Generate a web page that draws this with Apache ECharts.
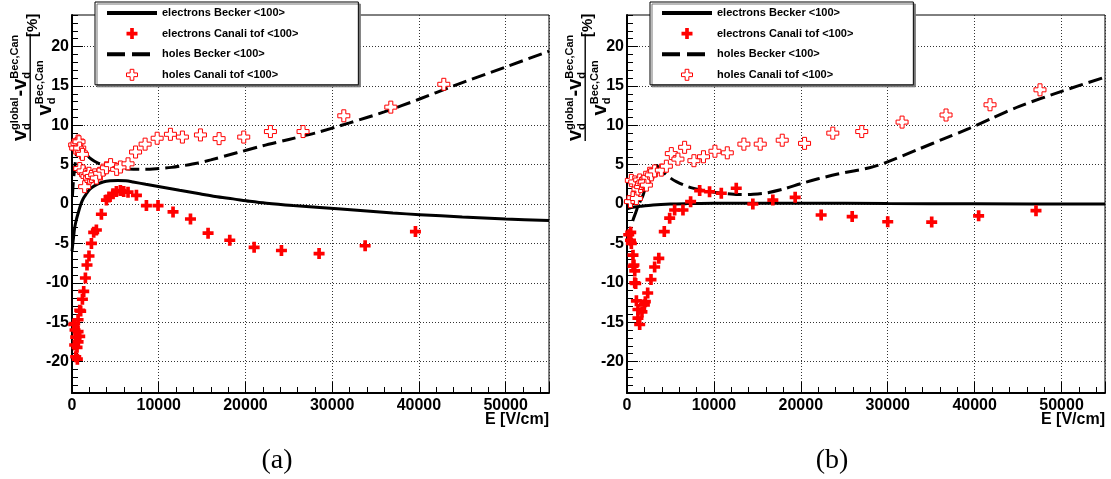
<!DOCTYPE html>
<html><head><meta charset="utf-8">
<script src="https://cdn.jsdelivr.net/npm/echarts@6/dist/echarts.min.js"></script>
<style>html,body{margin:0;padding:0;background:#fff}#c{width:1111px;height:479px}</style>
</head><body><div id="c"></div>
<script>
// ---------- data ----------
const seriesNames = ['electrons Becker <100>', 'electrons Canali tof <100>', 'holes Becker <100>', 'holes Canali tof <100>'];
const xTickValues = [0, 10000, 20000, 30000, 40000, 50000];
const yTickValues = [-20, -15, -10, -5, 0, 5, 10, 15, 20];
const panelLabels = ['(a)', '(b)'];
const xAxisTitle = 'E [V/cm]';

// panel (a)
const eBeckerA = [[0,-6.0],[150,-4.5],[310,-3.0],[500,-2.0],[700,-1.2],[1000,-0.1],[1300,0.7],[1660,1.3],[2000,1.8],[2420,2.2],[3000,2.55],[3580,2.8],[4400,2.95],[5300,3.0],[6200,2.95],[7040,2.8],[8500,2.5],[10120,2.2],[12400,1.75],[14730,1.3],[16500,0.95],[18570,0.65],[20500,0.35],[22420,0.1],[25500,-0.2],[28570,-0.45],[31000,-0.65],[34000,-0.9],[37000,-1.15],[40100,-1.35],[45000,-1.65],[50000,-1.9],[55000,-2.1]];
const eCanaliA = [[200,-15.3],[310,-15.2],[310,-17.9],[350,-16.0],[430,-16.9],[430,-19.4],[580,-18.2],[620,-19.7],[700,-16.2],[700,-17.5],[700,-14.7],[890,-16.8],[890,-13.5],[1000,-13.6],[1200,-12.1],[1350,-11.1],[1545,-9.4],[1730,-7.75],[1960,-6.6],[2240,-5.0],[2500,-3.6],[2810,-3.3],[3390,-1.3],[3970,0.5],[4270,0.9],[4730,1.3],[5120,1.6],[5580,1.7],[5960,1.6],[6460,1.5],[7430,1.1],[8580,-0.2],[9920,-0.2],[11650,-1.0],[13660,-1.9],[15690,-3.7],[18190,-4.6],[21000,-5.5],[24150,-5.9],[28490,-6.3],[33800,-5.3],[39600,-3.5]];
const hBeckerA = [[50,1.0],[150,2.8],[300,4.5],[450,5.8],[600,6.6],[800,7.0],[1000,6.9],[1400,6.5],[2000,5.9],[2500,5.5],[3000,5.2],[3600,4.95],[4500,4.7],[5500,4.55],[6500,4.45],[7500,4.4],[8500,4.4],[10000,4.5],[11500,4.65],[13000,4.9],[14500,5.2],[16000,5.6],[19000,6.5],[22000,7.4],[25000,8.2],[28000,9.0],[32000,10.3],[36000,11.7],[40000,13.3],[44000,15.0],[50000,17.4],[55000,19.4]];
const hCanaliA = [[310,7.5],[430,7.1],[580,7.7],[700,8.0],[810,7.9],[890,7.1],[1080,6.5],[1200,6.3],[890,4.5],[1270,4.2],[1580,3.7],[1460,2.2],[1730,3.5],[2040,3.3],[1960,3.9],[2240,3.5],[2620,3.7],[2810,3.3],[3190,3.9],[3580,4.3],[3970,4.6],[4450,5.0],[5150,4.4],[5580,4.7],[6460,5.1],[7330,6.6],[8430,7.6],[9820,8.35],[11350,8.85],[12730,8.5],[14810,8.77],[16960,8.3],[19800,8.5],[22880,9.2],[26640,9.2],[31340,11.2],[36760,12.3],[42870,15.2]];

// panel (b)
const eBeckerB = [[0,-0.6],[500,-0.45],[1500,-0.3],[3000,-0.12],[5000,0.0],[7000,0.05],[10000,0.1],[20000,0.1],[30000,0.05],[40000,0.02],[55000,0.0]];
const eCanaliB = [[200,-3.9],[430,-3.6],[400,-4.6],[500,-5.0],[690,-6.5],[700,-7.9],[800,-7.75],[890,-8.5],[890,-10.0],[1000,-10.1],[1080,-12.3],[1260,-13.4],[1260,-14.5],[1460,-15.3],[1720,-13.7],[2000,-12.8],[2110,-12.4],[2380,-11.3],[2760,-9.6],[3180,-8.0],[3660,-6.9],[4290,-3.5],[4910,-1.8],[5480,-0.76],[6440,-0.76],[7320,0.3],[8360,1.7],[9500,1.56],[10850,1.36],[12570,2.0],[14480,0.0],[16780,0.5],[19350,0.85],[22340,-1.4],[25910,-1.6],[30000,-2.25],[35060,-2.3],[40460,-1.5],[47060,-0.85]];
const hBeckerB = [[0,-4.6],[300,-3.5],[700,-2.0],[1000,-1.1],[1260,-0.3],[1500,0.3],[1840,1.1],[2100,2.0],[2410,3.05],[2800,4.0],[3180,4.7],[3400,4.9],[3700,4.6],[4330,3.9],[5000,3.3],[5680,2.84],[7010,2.2],[8550,1.78],[10080,1.5],[11500,1.3],[12760,1.2],[14500,1.25],[16210,1.44],[18000,1.9],[20050,2.6],[22000,3.2],[24250,3.8],[27900,4.6],[29620,5.2],[33640,7.0],[36500,8.3],[39390,9.6],[42000,10.9],[45140,12.4],[50000,14.3],[55000,16.1]];
const hCanaliB = [[400,0.3],[500,3.0],[690,0.8],[890,2.8],[1080,0.7],[1260,1.9],[1460,3.05],[1570,2.2],[1660,2.6],[1840,2.8],[2030,2.8],[2230,2.4],[2410,3.4],[2610,3.9],[2800,3.7],[3180,4.2],[3950,4.3],[4530,4.8],[5100,6.4],[5860,5.7],[6630,7.2],[7700,5.5],[8800,6.0],[10120,6.7],[11540,6.5],[13450,7.6],[15330,7.6],[17860,8.1],[20430,7.7],[23680,9.0],[27010,9.2],[31650,10.4],[36710,11.3],[41770,12.6],[47520,14.5]];

// ---------- chart ----------
const SANS = 'Liberation Sans';
const CROSS = 'path://M4,0H8V4H12V8H8V12H4V8H0V4H4Z';
const panels = [
  {data: [eBeckerA, eCanaliA, hBeckerA, hCanaliA], left: 72, right: 562, ox: 0},
  {data: [eBeckerB, eCanaliB, hBeckerB, hCanaliB], left: 627, right: 6, ox: 555}
];
const grids = [], xAxes = [], yAxes = [], series = [], legends = [], graphics = [];

const mctx = document.createElement('canvas').getContext('2d');
function tw(txt, size) { mctx.font = 'bold ' + size + 'px "' + SANS + '"'; return mctx.measureText(txt).width; }

panels.forEach((p, gi) => {
  grids.push({left: p.left, right: p.right, top: 15, bottom: 86, show: true, borderColor: '#000', borderWidth: 1, backgroundColor: 'transparent'});
  const lab = {fontFamily: SANS, fontWeight: 'bold', fontSize: 16, color: '#000'};
  xAxes.push({type: 'value', gridIndex: gi, min: 0, max: 55000, interval: 10000, position: 'bottom',
    axisLine: {onZero: false, lineStyle: {color: '#000', width: 2}},
    axisTick: {inside: true, length: 11, lineStyle: {color: '#000', width: 1}},
    axisLabel: Object.assign({margin: 5, formatter: v => xTickValues.includes(v) ? String(v) : ''}, lab),
    splitLine: {show: true, lineStyle: {type: [1, 2], color: '#333', width: 1}}});
  xAxes.push({type: 'value', gridIndex: gi, min: 0, max: 55000, interval: 2000, position: 'bottom',
    axisLine: {show: false, onZero: false}, axisTick: {inside: true, length: 6, lineStyle: {color: '#000', width: 1}},
    axisLabel: {show: false}, splitLine: {show: false}});
  yAxes.push({type: 'value', gridIndex: gi, min: -24, max: 24, position: 'left',
    axisLine: {onZero: false, lineStyle: {color: '#000', width: 2}},
    axisTick: {inside: true, length: 11, customValues: yTickValues, lineStyle: {color: '#000', width: 1}},
    axisLabel: Object.assign({margin: 3, customValues: yTickValues, formatter: v => String(v)}, lab),
    splitLine: {show: true, lineStyle: {type: [1, 2], color: '#333', width: 1}}});
  yAxes.push({type: 'value', gridIndex: gi, min: -24, max: 24, interval: 1, position: 'left',
    axisLine: {show: false, onZero: false}, axisTick: {inside: true, length: 6, lineStyle: {color: '#000', width: 1}},
    axisLabel: {show: false}, splitLine: {show: false}});
  const xi = 2 * gi, yi = 2 * gi;
  series.push({type: 'line', name: seriesNames[0], xAxisIndex: xi, yAxisIndex: yi, data: p.data[0], symbol: 'none', smooth: 0.3,
    lineStyle: {color: '#000', width: 3}, itemStyle: {color: '#000'}, z: 3});
  series.push({type: 'scatter', name: seriesNames[1], xAxisIndex: xi, yAxisIndex: yi, data: p.data[1], symbol: CROSS, symbolSize: 11,
    itemStyle: {color: '#ff0000', opacity: 1}, z: 4});
  series.push({type: 'line', name: seriesNames[2], xAxisIndex: xi, yAxisIndex: yi, data: p.data[2], symbol: 'none', smooth: 0.3,
    lineStyle: {color: '#000', width: 3, type: [14, 6]}, itemStyle: {color: '#000'}, z: 3});
  series.push({type: 'scatter', name: seriesNames[3], xAxisIndex: xi, yAxisIndex: yi, data: p.data[3], symbol: CROSS, symbolSize: 12,
    itemStyle: {color: '#ffffff', borderColor: '#ff0000', borderWidth: 1, opacity: 1}, z: 4});

  legends.push({orient: 'vertical', left: 95 + p.ox, top: 2, padding: [4, 60, 3, 10], itemWidth: 50, itemHeight: 11, itemGap: 6.6,
    data: [
      {name: seriesNames[0], itemStyle: {opacity: 0}, lineStyle: {width: 4, type: 'solid'}},
      {name: seriesNames[1], itemStyle: {borderWidth: 0}},
      {name: seriesNames[2], itemStyle: {opacity: 0}, lineStyle: {width: 4, type: [18, 7]}},
      {name: seriesNames[3], itemStyle: {borderWidth: 1}}
    ],
    selectedMode: false, backgroundColor: '#fff', borderColor: '#000', borderWidth: 1,
    shadowColor: '#777', shadowOffsetX: 2, shadowOffsetY: 2, shadowBlur: 0,
    textStyle: {fontFamily: SANS, fontWeight: 'bold', fontSize: 11, color: '#000', lineHeight: 14}, z: 10});

  // panel label & axis title
  graphics.push({type: 'text', x: 277 + p.ox, y: 461, style: {text: panelLabels[gi], fontFamily: 'Liberation Serif', fontSize: 28, fill: '#000', textAlign: 'center', textVerticalAlign: 'middle'}});
  const xr = gi === 0 ? 549 : 1105;
  graphics.push({type: 'text', x: xr, y: 420, style: {text: xAxisTitle, fontFamily: SANS, fontWeight: 'bold', fontSize: 16, fill: '#000', textAlign: 'right', textVerticalAlign: 'middle'}});

  // rotated y title (fraction)
  const t = (x, y, txt, size) => graphics.push({type: 'text', x: x + p.ox, y: y, rotation: Math.PI / 2,
    style: {text: txt, fontFamily: SANS, fontWeight: 'bold', fontSize: size, fill: '#000', textAlign: 'left', textVerticalAlign: 'bottom'}});
  const BL = 26, BLD = 51, BIG = 20, SM = 11;
  let y = 141;
  t(BL + 4, y, 'v', BIG); y -= tw('v', BIG);
  t(BL + 6, y, 'd', SM); t(BL - 6, y, 'global', SM); y -= Math.max(tw('d', SM), tw('global', SM)) + 1;
  t(BL + 4, y, '-v', BIG); y -= tw('-v', BIG);
  t(BL + 6, y, 'd', SM); t(BL - 6, y, 'Bec,Can', SM); y -= tw('Bec,Can', SM);
  const yEnd = y;
  graphics.push({type: 'rect', shape: {x: 29.5 + p.ox, y: yEnd - 1, width: 1.4, height: 142 - yEnd}, style: {fill: '#000'}});
  const tot = tw('v', BIG) + tw('Bec,Can', SM);
  let yd = (141 + yEnd) / 2 + tot / 2;
  t(BLD + 4, yd, 'v', BIG); yd -= tw('v', BIG);
  t(BLD + 6, yd, 'd', SM); t(BLD - 6, yd, 'Bec,Can', SM);
  t(40, 37, '[%]', 15);
});

const chart = echarts.init(document.getElementById('c'), null, {renderer: 'canvas'});
chart.setOption({
  animation: false,
  backgroundColor: '#fff',
  grid: grids, xAxis: xAxes, yAxis: yAxes, series: series, legend: legends,
  graphic: {elements: graphics}
});
</script>
</body></html>
